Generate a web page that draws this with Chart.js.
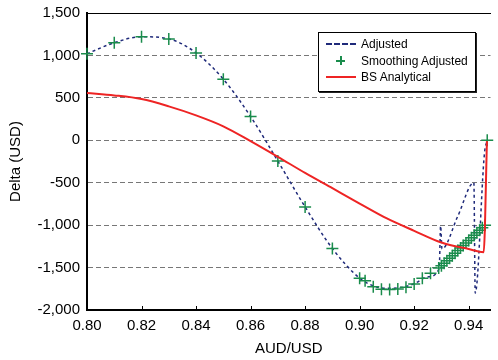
<!DOCTYPE html>
<html>
<head>
<meta charset="utf-8">
<script src="https://cdn.jsdelivr.net/npm/chart.js@4.4.1/dist/chart.umd.min.js"></script>
<style>
  body { margin: 0; background: #fff; }
  .wrap { position: relative; width: 498px; height: 360px; }
  .legend {
    position: absolute; left: 318px; top: 32px; width: 158px; height: 60px;
    box-sizing: border-box; border: 1px solid #000; box-shadow: 1px 1px 0 #222;
    background: #fff; font: 12px "Liberation Sans", Arial, sans-serif; color: #000;
  }
  .row { position: absolute; left: 0; height: 14px; line-height: 14px; }
  .row span.txt { position: absolute; left: 42px; white-space: nowrap; }
  .sw { position: absolute; left: 7px; top: 6px; width: 30px; }
  .sw.dash { border-top: 2px dashed #1f2a7a; }
  .sw.solid { border-top: 2px solid #ee2424; }
  .plus { position: absolute; left: 17px; top: 2px; width: 9px; height: 9px; }
  .plus::before, .plus::after { content: ""; position: absolute; background: #1a8c4c; }
  .plus::before { left: 4px; top: 0; width: 1.5px; height: 9px; }
  .plus::after { top: 4px; left: 0; height: 1.5px; width: 9px; }
</style>
</head>
<body>
<div class="wrap">
  <canvas id="deltaChart" width="498" height="360"></canvas>
  <div class="legend">
    <div class="row" style="top:4px"><div class="sw dash"></div><span class="txt">Adjusted</span></div>
    <div class="row" style="top:21px"><div class="plus"></div><span class="txt">Smoothing Adjusted</span></div>
    <div class="row" style="top:37px"><div class="sw solid"></div><span class="txt">BS Analytical</span></div>
  </div>
</div>
<script>
// Smoothing Adjusted (green + markers)
const smoothX = [0.80, 0.81, 0.82, 0.83, 0.84, 0.85, 0.86, 0.87, 0.88, 0.89, 0.90,
  0.902, 0.905, 0.908, 0.911, 0.914, 0.917, 0.920, 0.923, 0.926, 0.929,
  0.930, 0.931, 0.932, 0.933, 0.934, 0.935, 0.936, 0.937, 0.938, 0.939,
  0.940, 0.941, 0.942, 0.943, 0.944, 0.945, 0.946, 0.9468];
const smoothY = [1020, 1150, 1220, 1195, 1030, 720, 280, -245, -785, -1275, -1625,
  -1655, -1725, -1755, -1757, -1753, -1733, -1695, -1627, -1568, -1505,
  -1480, -1450, -1420, -1390, -1360, -1330, -1300, -1270, -1240, -1210,
  -1180, -1150, -1120, -1090, -1060, -1030, -1000, 0];

// Adjusted (navy dashed line)
const adjX = [0.80, 0.81, 0.82, 0.83, 0.84, 0.85, 0.86, 0.87, 0.88, 0.89, 0.90,
  0.905, 0.91, 0.915, 0.92, 0.925, 0.9292, 0.9297, 0.9302, 0.936, 0.9419,
  0.9424, 0.9458, 0.9468];
const adjY = [1020, 1150, 1220, 1195, 1030, 720, 280, -245, -785, -1275, -1625,
  -1715, -1745, -1735, -1690, -1610, -1510, -1010, -1280, -895, -500,
  -1800, -150, 0];

// BS Analytical (red line)
const bsX = [0.80, 0.81, 0.82, 0.83, 0.84, 0.85, 0.86, 0.87, 0.88, 0.89, 0.90,
  0.91, 0.92, 0.93, 0.94, 0.9455, 0.9467];
const bsY = [557, 529, 486, 400, 294, 165, -10, -195, -385, -565, -745,
  -921, -1067, -1205, -1282, -1318, -10];

const xTicks = [0.80, 0.82, 0.84, 0.86, 0.88, 0.90, 0.92, 0.94];
const yTicks = [-2000, -1500, -1000, -500, 0, 500, 1000, 1500];

const toPoints = (xs, ys) => xs.map((x, i) => ({ x: x, y: ys[i] }));

Chart.defaults.font.family = '"Liberation Sans", Arial, Helvetica, sans-serif';
Chart.defaults.font.size = 15;
Chart.defaults.color = "#000";

// small inward tick marks on the x axis
const innerTicks = {
  id: "innerTicks",
  afterDraw(chart) {
    const { ctx, scales: { x }, chartArea } = chart;
    ctx.save();
    ctx.strokeStyle = "#000";
    ctx.lineWidth = 1;
    xTicks.slice(1).forEach((v) => {
      const px = Math.round(x.getPixelForValue(v)) + 0.5;
      ctx.beginPath();
      ctx.moveTo(px, chartArea.bottom);
      ctx.lineTo(px, chartArea.bottom - 4);
      ctx.stroke();
    });
    ctx.restore();
  },
};

new Chart(document.getElementById("deltaChart"), {
  type: "line",
  data: {
    datasets: [
      {
        label: "Adjusted",
        data: toPoints(adjX, adjY),
        borderColor: "#1f2a7a",
        borderWidth: 1.5,
        borderDash: [3, 3],
        pointRadius: 0,
        cubicInterpolationMode: "monotone",
        order: 3,
      },
      {
        label: "Smoothing Adjusted",
        data: toPoints(smoothX, smoothY),
        showLine: false,
        pointStyle: "cross",
        pointRadius: 6,
        pointBorderWidth: 1.5,
        borderColor: "#1a8c4c",
        backgroundColor: "#1a8c4c",
        clip: false,
        order: 2,
      },
      {
        label: "BS Analytical",
        data: toPoints(bsX, bsY),
        borderColor: "#ee2424",
        borderWidth: 2,
        pointRadius: 0,
        cubicInterpolationMode: "monotone",
        order: 1,
      },
    ],
  },
  options: {
    responsive: false,
    animation: false,
    layout: { padding: { top: 13, right: 0, left: 0, bottom: 0 } },
    plugins: { legend: { display: false }, tooltip: { enabled: false } },
    scales: {
      x: {
        type: "linear",
        min: 0.8,
        max: 0.948,
        grid: { display: false, drawTicks: false },
        border: { display: true, color: "#000", width: 2 },
        afterBuildTicks: (scale) => {
          scale.ticks = xTicks.map((v) => ({ value: v }));
        },
        ticks: {
          padding: 7,
          maxRotation: 0,
          callback: (v) => v.toFixed(2),
        },
        title: {
          display: true,
          text: "AUD/USD",
          padding: { top: 0, bottom: 2 },
        },
        afterFit: (scale) => {
          scale.height = 50;
          scale.paddingLeft = 0;
          scale.paddingRight = 0;
        },
      },
      xTop: {
        type: "linear",
        position: "top",
        display: true,
        grid: { display: false, drawTicks: false },
        ticks: { display: false },
        border: { display: true, color: "#000", width: 1 },
      },
      y: {
        min: -2000,
        max: 1500,
        afterBuildTicks: (scale) => {
          scale.ticks = yTicks.map((v) => ({ value: v }));
        },
        grid: {
          drawTicks: false,
          color: (ctx) =>
            ctx.tick && (ctx.tick.value === 1500 || ctx.tick.value === -2000)
              ? "rgba(0,0,0,0)"
              : "#777",
          lineWidth: 1,
        },
        border: { display: true, color: "#000", width: 2, dash: [5, 3] },
        ticks: {
          padding: 7,
          callback: (v) => v.toLocaleString("en-US"),
        },
        title: {
          display: true,
          text: "Delta (USD)",
          padding: { top: 7, bottom: 0 },
        },
        afterFit: (scale) => {
          scale.width = 87;
          scale.paddingTop = 0;
          scale.paddingBottom = 0;
        },
      },
    },
  },
  plugins: [innerTicks],
});
</script>
</body>
</html>
